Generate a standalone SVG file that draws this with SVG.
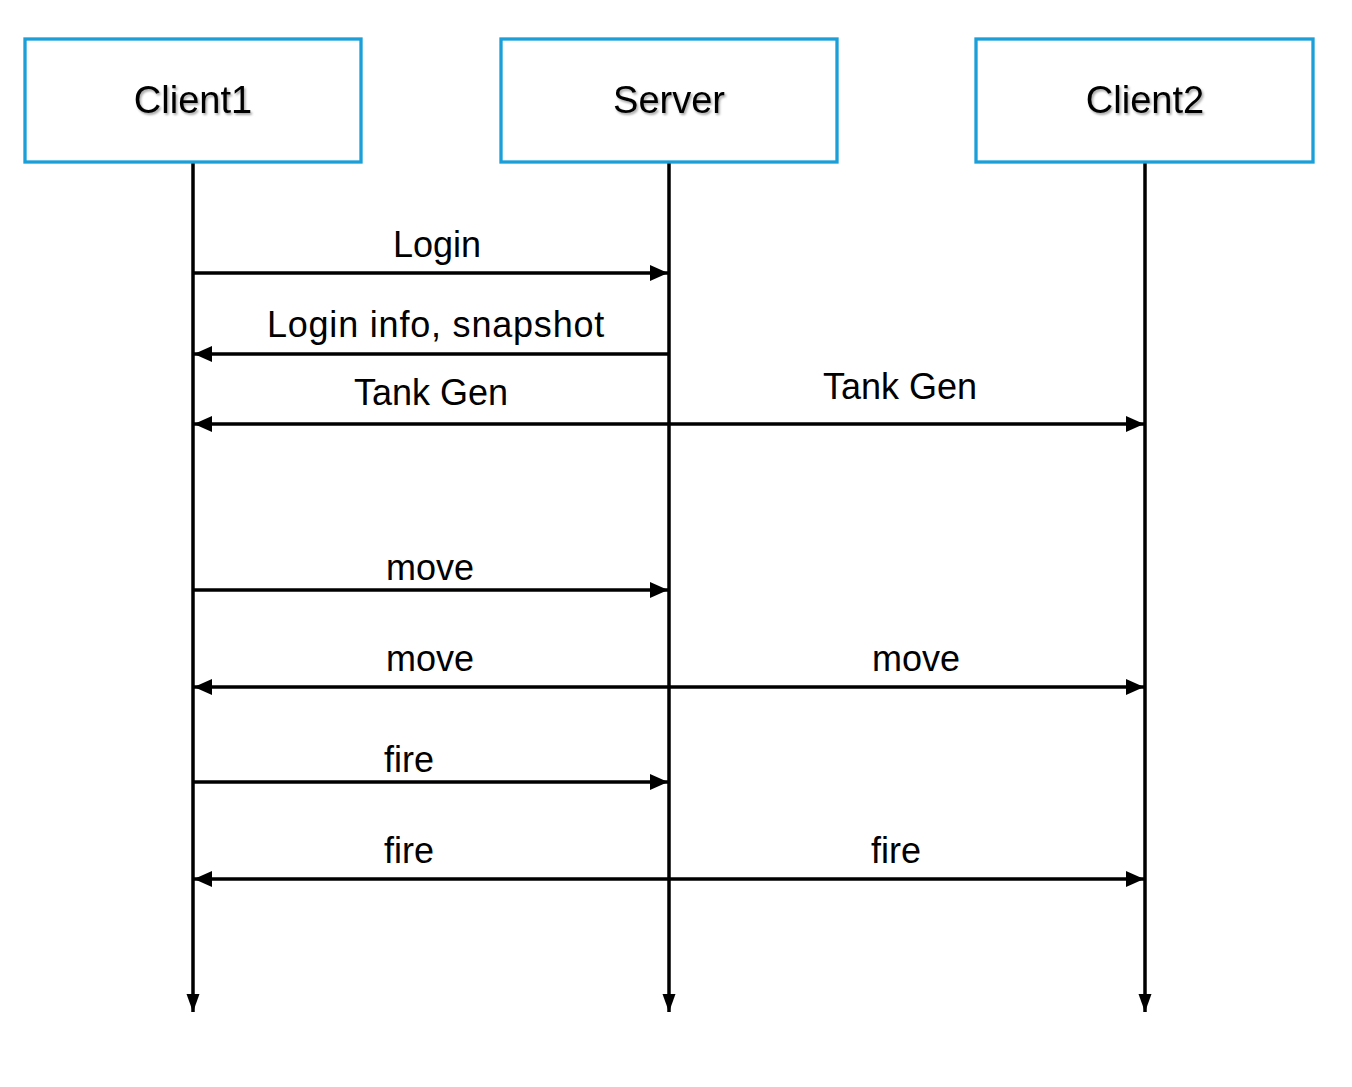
<svg xmlns="http://www.w3.org/2000/svg" width="1352" height="1087" viewBox="0 0 1352 1087">
<style>
.box{fill:#ffffff;stroke:#1a9fd9;stroke-width:3.3}
.title{font-family:"Liberation Sans",Arial,sans-serif;font-size:38px;fill:#000;text-anchor:middle}
.lbl{font-family:"Liberation Sans",Arial,sans-serif;font-size:36px;fill:#000;text-anchor:middle}
.life{stroke:#000;stroke-width:3.5;fill:none}
.msg{stroke:#000;stroke-width:3.5;fill:none}
</style>
<defs>
<filter id="sh" x="-10%" y="-20%" width="130%" height="150%">
<feDropShadow dx="1.5" dy="2" stdDeviation="1.2" flood-color="#000" flood-opacity="0.35"/>
</filter>
<marker id="ah" markerUnits="userSpaceOnUse" viewBox="0 0 19 18" markerWidth="19" markerHeight="18" refX="18" refY="9" orient="auto-start-reverse">
<path d="M0,1 L18,9 L0,17 z" fill="#000"/>
</marker>
<marker id="dh" markerUnits="userSpaceOnUse" viewBox="0 0 19 14" markerWidth="19" markerHeight="14" refX="18" refY="7" orient="auto">
<path d="M0,0.5 L18,7 L0,13.5 z" fill="#000"/>
</marker>
</defs>
<rect width="1352" height="1087" fill="#ffffff"/>
<g id="connectors">
<line class="life" x1="193" y1="163" x2="193" y2="1012" marker-end="url(#dh)"/>
<line class="life" x1="669" y1="163" x2="669" y2="1012" marker-end="url(#dh)"/>
<line class="life" x1="1145" y1="163" x2="1145" y2="1012" marker-end="url(#dh)"/>
<line class="msg" x1="193" y1="273" x2="668" y2="273" marker-end="url(#ah)"/>
<line class="msg" x1="669" y1="354" x2="194" y2="354" marker-end="url(#ah)"/>
<line class="msg" x1="194" y1="424" x2="1144" y2="424" marker-start="url(#ah)" marker-end="url(#ah)"/>
<line class="msg" x1="193" y1="590" x2="668" y2="590" marker-end="url(#ah)"/>
<line class="msg" x1="194" y1="687" x2="1144" y2="687" marker-start="url(#ah)" marker-end="url(#ah)"/>
<line class="msg" x1="193" y1="782" x2="668" y2="782" marker-end="url(#ah)"/>
<line class="msg" x1="194" y1="879" x2="1144" y2="879" marker-start="url(#ah)" marker-end="url(#ah)"/>
<text class="lbl" x="437" y="257">Login</text>
<text class="lbl" x="436" y="337" letter-spacing="0.8">Login info, snapshot</text>
<text class="lbl" x="431" y="405">Tank Gen</text>
<text class="lbl" x="900" y="399">Tank Gen</text>
<text class="lbl" x="430" y="580">move</text>
<text class="lbl" x="430" y="671">move</text>
<text class="lbl" x="916" y="671">move</text>
<text class="lbl" x="409" y="772">fire</text>
<text class="lbl" x="409" y="863">fire</text>
<text class="lbl" x="896" y="863">fire</text>
</g>
<g id="client1">
<rect class="box" x="25" y="39" width="336" height="123"/>
<text class="title" x="193" y="113" filter="url(#sh)">Client1</text>
</g>
<g id="server">
<rect class="box" x="501" y="39" width="336" height="123"/>
<text class="title" x="669" y="113" filter="url(#sh)">Server</text>
</g>
<g id="client2">
<rect class="box" x="976" y="39" width="337" height="123"/>
<text class="title" x="1145" y="113" filter="url(#sh)">Client2</text>
</g>
</svg>
